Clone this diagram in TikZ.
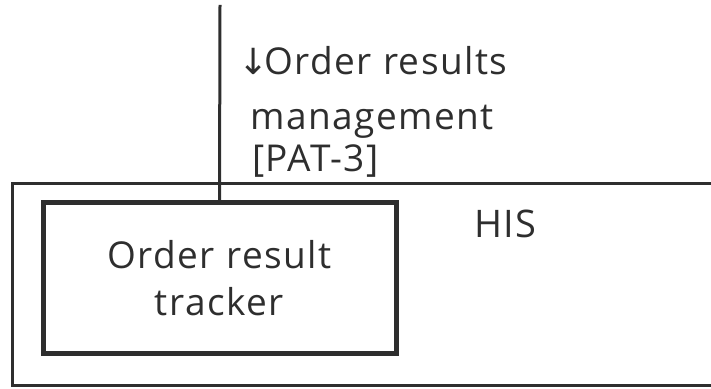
\documentclass[tikz,border=0pt]{standalone}
\usepackage{fontspec}
\setmainfont{Open Sans}[LetterSpace=4]
\newfontfamily\arrowfont{DejaVu Sans}
\definecolor{ink}{HTML}{2E2E2E}
\begin{document}
\begin{tikzpicture}[x=1pt,y=1pt,
  frame/.style={draw=ink,line width=3pt},
  component/.style={draw=ink,line width=5pt,minimum width=353pt,minimum height=150pt,
    inner sep=0pt,align=center,font=\fontsize{37}{47}\selectfont,text=ink},
  label/.style={inner sep=0pt,anchor=base west,font=\fontsize{37}{47}\selectfont,text=ink}]
  \useasboundingbox (0,0) rectangle (711,388);
  % HIS system boundary (open to the right)
  \draw[frame] (730,204) -- (12,204) -- (12,3) -- (730,3);
  \node[label,font=\fontsize{38}{47}\selectfont] (his) at (474,150) {HIS};
  % the tracker component
  \node[component] (tracker) at (219.5,110) {Order result\\tracker};
  % incoming interface line
  \coordinate (top) at (220,383);
  \draw[ink,line width=3pt] (top) -- (tracker.north);
  \node[label] (l1) at (238,313) {{\arrowfont\fontsize{36}{40}\selectfont↓}\hspace{-4pt}Order results};
  \node[label] (l2) at (250,258) {management};
  \node[label] (l3) at (252,216) {[PAT-3]};
\end{tikzpicture}
\end{document}
